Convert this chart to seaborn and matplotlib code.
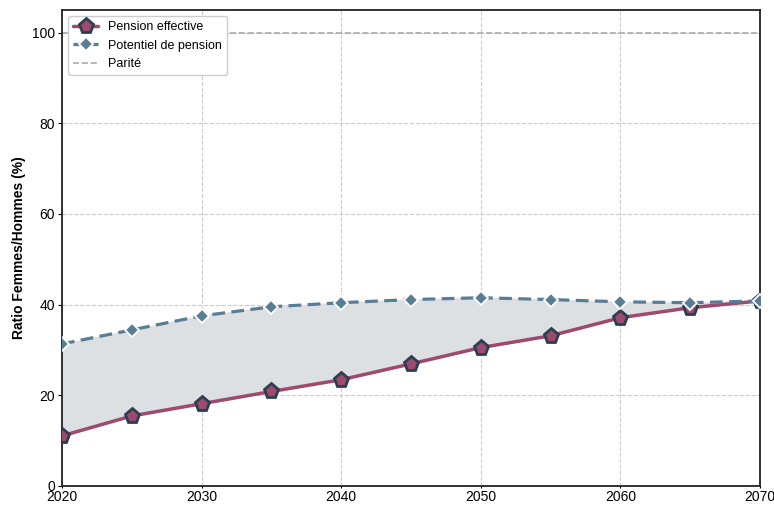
import matplotlib.pyplot as plt
import pandas as pd
import seaborn as sns

# Data
years = [2020, 2025, 2030, 2035, 2040, 2045, 2050, 2055, 2060, 2065, 2070]
pension_effective = [11.0, 15.4, 18.1, 20.8, 23.4, 26.9, 30.5, 33.1, 37.1, 39.3, 40.8]
potentiel_pension = [31.3, 34.4, 37.5, 39.5, 40.4, 41.1, 41.5, 41.1, 40.6, 40.4, 40.8]
parite = 100

df = pd.DataFrame({'year': years, 'eff': pension_effective, 'pot': potentiel_pension})

sns.set_style('white')
plt.rcParams['font.family'] = ['Liberation Sans', 'DejaVu Sans']

fig, ax = plt.subplots(figsize=(7.74, 5.07), dpi=100)

ax.fill_between(df['year'], df['eff'], df['pot'], color='#dde0e3', zorder=1)

sns.lineplot(data=df, x='year', y='eff', ax=ax, color='#9e4a6e', linewidth=2.5,
             marker='p', markersize=11, markerfacecolor='#9e4a6e',
             markeredgecolor='#2c3e50', markeredgewidth=2, label='Pension effective', zorder=3)
sns.lineplot(data=df, x='year', y='pot', ax=ax, color='#5a7d96', linewidth=2.3,
             linestyle=(0, (4, 2)), marker='D', markersize=7, markerfacecolor='#5a7d96',
             markeredgecolor='white', markeredgewidth=1.3, label='Potentiel de pension', zorder=4)
ax.axhline(parite, color='#aaaaaa', linestyle='--', linewidth=1.2, label='Parité', zorder=2)

ax.set_xlim(2020, 2070)
ax.set_ylim(0, 105)
ax.set_xticks(range(2020, 2071, 10))
ax.set_yticks(range(0, 101, 20))
ax.grid(True, linestyle='--', color='#cccccc', linewidth=0.8)
ax.set_axisbelow(True)
ax.set_xlabel('')
ax.set_ylabel('Ratio Femmes/Hommes (%)', fontweight='bold', fontsize=10, color='black')
ax.tick_params(labelsize=10, left=True, bottom=True, colors='black', labelcolor='black')
ax.tick_params(axis='y', length=3, pad=2)
ax.tick_params(axis='x', length=1.5, pad=1.5)
for s in ax.spines.values():
    s.set_color('#222222')
    s.set_linewidth(1.3)

leg = ax.legend(loc='upper left', fontsize=9, frameon=True, framealpha=1, edgecolor='#cccccc')
for t in leg.get_texts():
    t.set_color('black')

fig.subplots_adjust(left=0.08, right=0.982, top=0.98, bottom=0.042)
fig.savefig('out.png')
